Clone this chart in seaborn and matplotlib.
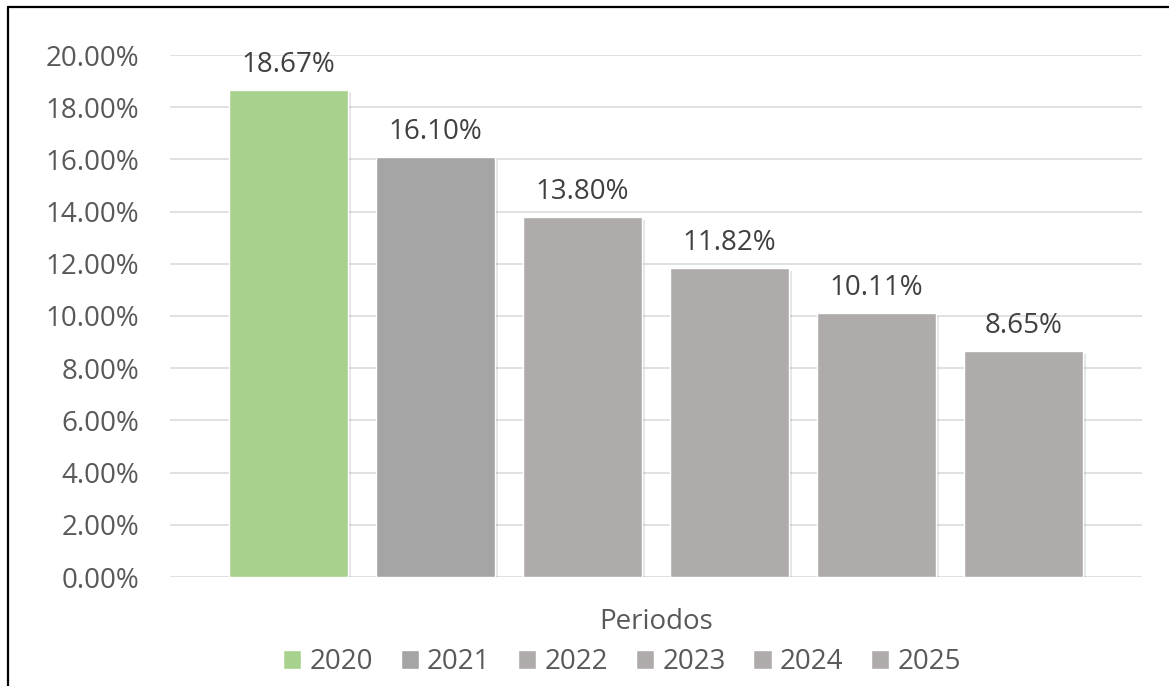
import pandas as pd
import matplotlib
matplotlib.use("Agg")
import matplotlib.pyplot as plt
import matplotlib.patheffects as pe
from matplotlib.lines import Line2D
from matplotlib.ticker import PercentFormatter
import seaborn as sns

# datos
categoria = ["Periodos"]
anios = ["2020", "2021", "2022", "2023", "2024", "2025"]
tasas = [18.67, 16.10, 13.80, 11.82, 10.11, 8.65]
colores = ["#A9D18E", "#A5A5A5", "#AFABAB", "#AFABAB", "#AFABAB", "#AFABAB"]

df = pd.DataFrame({"Periodo": categoria * len(anios), "Año": anios, "Tasa": tasas})

sns.set_style("white")
plt.rcParams["font.family"] = ["Open Sans", "DejaVu Sans"]

fig = plt.figure(figsize=(11.69, 6.86), dpi=100)
ax = fig.add_axes([170 / 1169, 1 - 577 / 686, (1142 - 170) / 1169, (577 - 55) / 686])

sns.barplot(data=df, x="Periodo", y="Tasa", hue="Año", palette=colores,
            width=0.907, gap=0.19, saturation=1, ax=ax, legend=True)

for cont in ax.containers:
    ax.bar_label(cont, fmt="%.2f%%", padding=8, fontsize=20, color="#404040")
    for barra in cont:
        barra.set_path_effects([pe.SimplePatchShadow(offset=(2, -2), alpha=0.12), pe.Normal()])

ax.set_ylim(0, 20)
ax.set_yticks(range(0, 21, 2))
ax.yaxis.set_major_formatter(PercentFormatter(decimals=2))
ax.set_xlim(-0.5, 0.5)
ax.set_xlabel("")
ax.set_ylabel("")
ax.grid(axis="y", color="#D9D9D9", linewidth=1.1)
ax.set_axisbelow(True)
sns.despine(ax=ax, left=True, bottom=True)
ax.tick_params(axis="y", length=0, labelsize=20, labelcolor="#595959", pad=22)
ax.tick_params(axis="x", length=0, labelsize=20, labelcolor="#595959", pad=22)

handles, labels = ax.get_legend_handles_labels()
ax.get_legend().remove()
fig.legend(handles, labels, loc="center", bbox_to_anchor=(622 / 1169, 1 - 662 / 686),
           ncol=6, frameon=False, fontsize=20, labelcolor="#595959",
           handlelength=0.65, handleheight=0.65, handletextpad=0.3,
           columnspacing=1.0, borderaxespad=0)

# marco del gráfico
fig.add_artist(Line2D([7.5 / 1169, 7.5 / 1169], [0, 1 - 6.5 / 686],
                      transform=fig.transFigure, color="black", linewidth=1.6))
fig.add_artist(Line2D([7.5 / 1169, 1], [1 - 6.5 / 686, 1 - 6.5 / 686],
                      transform=fig.transFigure, color="black", linewidth=1.6))

plt.savefig("out.png", dpi=100)
